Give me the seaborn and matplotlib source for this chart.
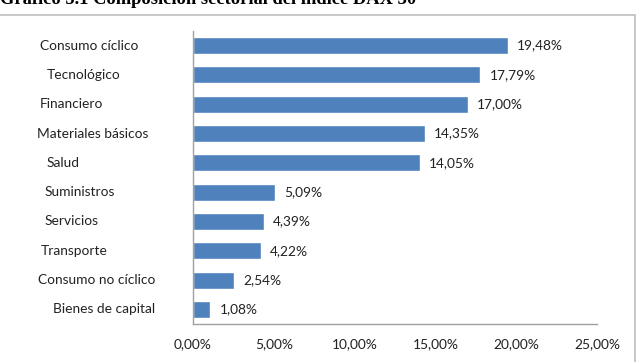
import matplotlib
matplotlib.use('Agg')
import matplotlib.pyplot as plt
import matplotlib.transforms as mtransforms
from matplotlib.patches import Rectangle
import seaborn as sns
import pandas as pd

# datos del gráfico
sectores = ['Consumo cíclico', 'Tecnológico', 'Financiero', 'Materiales básicos', 'Salud',
            'Suministros', 'Servicios', 'Transporte', 'Consumo no cíclico', 'Bienes de capital']
pesos = [19.48, 17.79, 17.00, 14.35, 14.05, 5.09, 4.39, 4.22, 2.54, 1.08]
ticks_x = [0, 5, 10, 15, 20, 25]
titulo = 'Gráfico 5.1 Composición sectorial del índice DAX 30'

# posición horizontal (px) de cada etiqueta de categoría, como en el original
label_px = [40, 47, 40, 37, 47, 45, 45, 41, 38, 53]

df = pd.DataFrame({'sector': sectores, 'peso': pesos})

sns.set_theme(style='white')
plt.rcParams['font.family'] = ['Lato', 'DejaVu Sans']

W, H = 637, 362
fig = plt.figure(figsize=(W / 100, H / 100), dpi=100)
ax = fig.add_axes([193 / W, 1 - 324 / H, (597 - 193) / W, (324 - 31) / H])

sns.barplot(data=df, x='peso', y='sector', order=sectores, color='#4F81BD',
            width=0.58, saturation=1, ax=ax)

fs = 9.9
ax.set_xlim(0, 25)
ax.set_xticks(ticks_x)
ax.set_xticklabels([f'{t:.2f}%'.replace('.', ',') for t in ticks_x], fontsize=fs, color='#222222')
ax.tick_params(axis='x', length=0, pad=10)
ax.tick_params(axis='y', length=0)
ax.set_yticklabels([])
ax.set_xlabel('')
ax.set_ylabel('')

for s in ['top', 'right']:
    ax.spines[s].set_visible(False)
for s in ['left', 'bottom']:
    ax.spines[s].set_color('#A0A0A0')
    ax.spines[s].set_linewidth(1.0)

# etiquetas de datos
for i, v in enumerate(pesos):
    ax.text(v + 0.55, i, f'{v:.2f}%'.replace('.', ','), va='center', ha='left',
            fontsize=fs, color='#222222')

# etiquetas de categorías
trans = mtransforms.blended_transform_factory(fig.transFigure, ax.transData)
for i, (nombre, px) in enumerate(zip(sectores, label_px)):
    ax.text(px / W, i, nombre, transform=trans, va='center', ha='left',
            fontsize=fs, color='#222222', clip_on=False)

# marco del gráfico
fig.patches.append(Rectangle((-0.01, -0.01), 635 / W + 0.01, 1 - 15 / H + 0.01,
                             transform=fig.transFigure, fill=False,
                             edgecolor='#BFBFBF', linewidth=1.2))

# título (cortado arriba, como en el original)
fig.text(0.0, 1 + 1 / H, titulo, ha='left', va='center', fontsize=13.3,
         fontweight='bold', family='Liberation Serif', color='black')

fig.savefig('out.png', dpi=100)
